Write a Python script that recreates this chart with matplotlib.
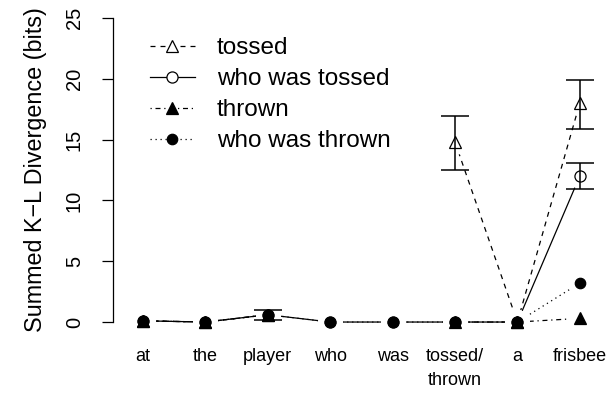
import numpy as np
import matplotlib
matplotlib.use('Agg')
import matplotlib.pyplot as plt

plt.rcParams['font.family'] = ['Liberation Sans', 'DejaVu Sans']

# data
words = ['at', 'the', 'player', 'who', 'was', 'tossed/\nthrown', 'a', 'frisbee']
nan = np.nan
tossed = [0.1, 0.0, 0.6, nan, nan, 14.8, 0.0, 18.0]
who_was_tossed = [0.1, 0.0, 0.6, 0.0, 0.0, 0.0, 0.0, 12.0]
thrown = [0.1, 0.0, 0.6, nan, nan, 0.0, 0.0, 0.3]
who_was_thrown = [0.1, 0.0, 0.6, 0.0, 0.0, 0.0, 0.0, 3.2]

# error bars: word index, low, high
err_pos = [2, 5, 7, 7]
err_lo = [0.2, 12.5, 15.9, 10.9]
err_hi = [1.0, 16.9, 19.9, 13.1]
err_mid = [0.6, 14.8, 18.0, 12.0]

yticks = [0, 5, 10, 15, 20, 25]

W, H = 609, 401
fig = plt.figure(figsize=(W / 100, H / 100), dpi=100)
ax = fig.add_axes([113 / W, (H - 334.2) / H, 495 / W, 328.4 / H])

x = np.arange(1, len(words) + 1)

series = [
    (tossed, 'tossed', (0, (4, 4)), '^', 'white', 9),
    (who_was_tossed, 'who was tossed', '-', 'o', 'white', 8),
    (thrown, 'thrown', (0, (1, 3, 4, 3)), '^', 'black', 9),
    (who_was_thrown, 'who was thrown', (0, (1, 3)), 'o', 'black', 7.5),
]

# lines (with markers, for the legend)
for vals, lab, ls, mk, fc, ms in series:
    ax.plot(x, vals, color='black', lw=0.9, linestyle=ls, marker=mk,
            markersize=ms, markerfacecolor=fc, markeredgecolor='black',
            markeredgewidth=0.9, label=lab, zorder=2)

# white disks give the R type="b" gaps round each point
for vals, lab, ls, mk, fc, ms in series:
    ax.plot(x, vals, linestyle='none', marker='o', markersize=18,
            markerfacecolor='white', markeredgecolor='none', zorder=3)

for vals, lab, ls, mk, fc, ms in series:
    ax.plot(x, vals, linestyle='none', marker=mk, markersize=ms,
            markerfacecolor=fc, markeredgecolor='black',
            markeredgewidth=0.9, zorder=4)

ex = x[err_pos]
mid = np.array(err_mid)
ax.errorbar(ex, mid, yerr=[mid - np.array(err_lo), np.array(err_hi) - mid],
            fmt='none', ecolor='black', elinewidth=1.1, capsize=10,
            capthick=1.1, zorder=5)

ax.set_xlim(0.519, 8.452)
ax.set_ylim(-1, 26)

for s in ['top', 'right', 'bottom']:
    ax.spines[s].set_visible(False)
ax.spines['left'].set_bounds(0, 25)
ax.spines['left'].set_linewidth(0.9)

ax.set_xticks(x)
ax.set_xticklabels(words, fontsize=13, linespacing=1.55, va='top')
ax.tick_params(axis='x', length=0, pad=10)

ax.set_yticks(yticks)
ax.set_yticklabels([str(t) for t in yticks], fontsize=14.5, rotation=90,
                   va='center')
ax.tick_params(axis='y', length=8, width=0.9, pad=13)

ax.set_ylabel('Summed K\u2212L Divergence (bits)', fontsize=16.8)
ax.yaxis.set_label_coords(-0.1333, 0.5)

ax.legend(loc='upper left', bbox_to_anchor=(150 / W, 1 - 37 / H),
          bbox_transform=fig.transFigure, frameon=False, fontsize=17.5,
          handlelength=1.85, handletextpad=0.9, labelspacing=0.37,
          borderpad=0, borderaxespad=0)

fig.savefig('out.png', dpi=100)
